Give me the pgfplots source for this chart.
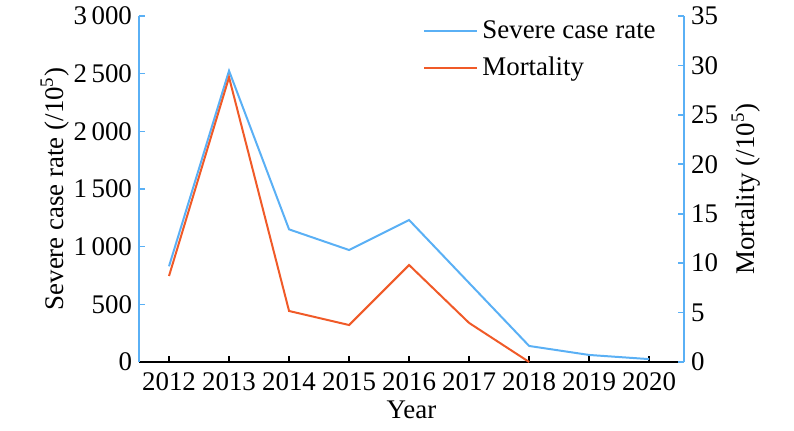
\documentclass[border=0pt]{standalone}
\usepackage{fontspec}
\setmainfont{Liberation Serif}
\usepackage{pgfplots}
\pgfplotsset{compat=1.18}
\definecolor{cblue}{RGB}{90,176,245}
\definecolor{corange}{RGB}{240,90,40}
\begin{document}
\begin{tikzpicture}
\pgfplotsset{
  every axis/.append style={font=\fontsize{13.5}{16}\selectfont},
  /pgf/number format/assume math mode=true,
}
\begin{axis}[name=ax,
  scale only axis, width=272.5bp, height=173bp,
  xmin=2011.5, xmax=2020.58, ymin=0, ymax=3000,
  axis x line=bottom, axis y line=left,
  axis line style={-},
  x axis line style={black, line width=0.8pt},
  y axis line style={cblue, line width=0.8pt},
  xtick={2012,...,2020},
  xticklabel style={/pgf/number format/1000 sep={}, yshift=-2bp},
  ytick={0,500,...,3000},
  yticklabel style={/pgf/number format/1000 sep={\,}},
  tick align=inside,
  major tick length=3bp,
  x tick style={black, line width=0.8pt},
  y tick style={cblue, line width=0.8pt},
  xlabel={Year}, ylabel={Severe case rate (/10\textsuperscript{5})},
  xlabel style={yshift=2bp},
  ylabel style={yshift=-4.5bp},
  legend style={draw=none, fill=none, at={(1,1)}, xshift=-9bp, yshift=2bp, anchor=north east, font=\fontsize{13.5}{16}\selectfont, row sep=4pt},
  legend cell align=left,
  legend image code/.code={\draw[#1] (0bp,0bp) -- (26.5bp,0bp);},
]
\addplot[cblue, line width=1pt] coordinates {
 (2012,830) (2013,2525) (2014,1150) (2015,971) (2016,1231) (2017,685) (2018,139) (2019,61) (2020,25)};
\addlegendentry{Severe case rate}
\addlegendimage{corange, line width=1pt}
\addlegendentry{Mortality}
\end{axis}
\begin{axis}[
  scale only axis, width=272.5bp, height=173bp,
  xmin=2011.5, xmax=2020.58, ymin=0, ymax=35,
  axis x line=none, axis y line=right,
  axis line style={-},
  y axis line style={cblue, line width=0.8pt},
  ytick={0,5,...,35},
  tick align=inside,
  major tick length=3bp,
  y tick style={cblue, line width=0.8pt},
  ylabel={Mortality (/10\textsuperscript{5})},
  ylabel style={rotate=0},
]
\addplot[corange, line width=1pt] coordinates {
 (2012,8.7) (2013,28.8) (2014,5.16) (2015,3.74) (2016,9.81) (2017,3.95) (2018,0)};
\end{axis}
\useasboundingbox (ax.south west) ++(-69.5bp,-34.5bp) rectangle ++(397bp,215.5bp);
\end{tikzpicture}
\end{document}
